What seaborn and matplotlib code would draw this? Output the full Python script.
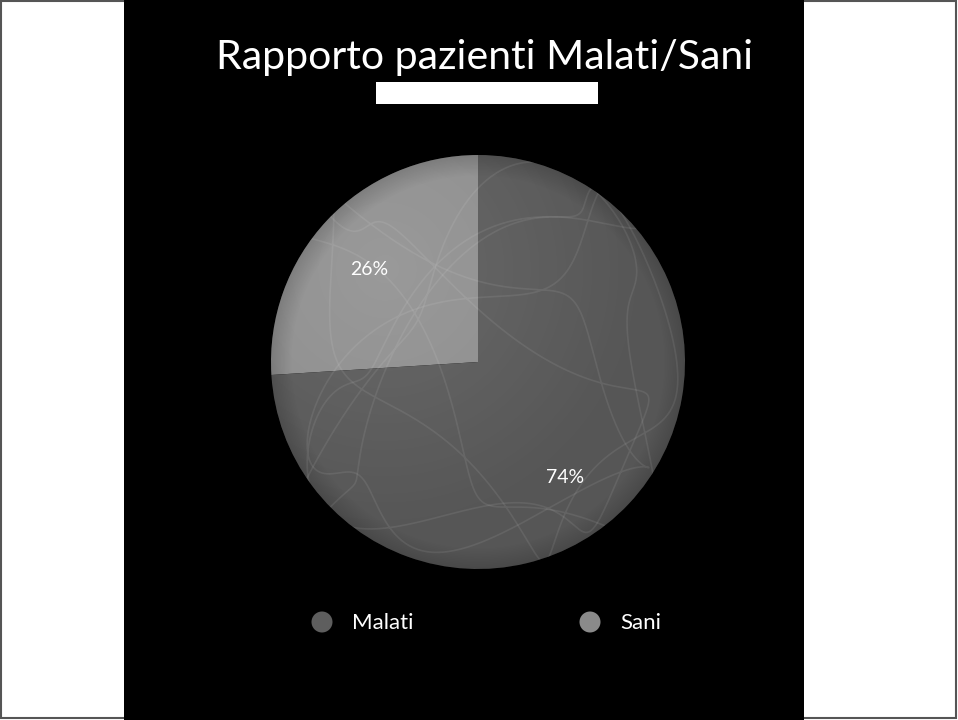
import numpy as np
import matplotlib
matplotlib.use("Agg")
import matplotlib.pyplot as plt
import seaborn as sns
from matplotlib.patches import Rectangle, Circle

# Data
labels = ["Sani", "Malati"]
shares = [26, 74]
legend_order = ["Malati", "Sani"]
title_text = "Rapporto pazienti Malati/Sani"

sns.set_theme(style="white")
plt.rcParams["font.family"] = ["Lato", "DejaVu Sans"]

palette = {"Malati": "#565656", "Sani": "#8c8c8c"}
legend_colors = {"Malati": "#5e5e5e", "Sani": "#8a8a8a"}

W, H = 958, 720
fig = plt.figure(figsize=(W / 100, H / 100), dpi=100, facecolor="white")

# Backdrop: full-figure overlay in pixel coordinates
bg = fig.add_axes([0, 0, 1, 1])
bg.set_xlim(0, W)
bg.set_ylim(H, 0)
bg.axis("off")
bg.add_patch(Rectangle((1, 1), W - 3, H - 3, facecolor="white",
                       edgecolor="#555555", lw=1.5))
bg.add_patch(Rectangle((124, 0), 680, H, facecolor="black", edgecolor="none"))

# Title and the white bar under it
bg.text(485, 58, title_text, color="white", fontsize=29.5, ha="center",
        va="center")
bg.add_patch(Rectangle((376, 82), 222, 22, facecolor="white", edgecolor="none"))

# Pie axes placed so that its centre sits in the black panel
cx, cy, r = 478, 362, 207
ax = fig.add_axes([(cx - r) / W, 1 - (cy + r) / H, 2 * r / W, 2 * r / H])
ax.set_facecolor("none")
wedges, texts, autotexts = ax.pie(
    shares,
    colors=[palette[l] for l in labels],
    startangle=90,
    counterclock=True,
    radius=1,
    autopct="%.0f%%",
    pctdistance=0.70,
    wedgeprops=dict(linewidth=0),
    textprops=dict(color="white", fontsize=14),
)
ax.set_xlim(-1, 1)
ax.set_ylim(-1, 1)
ax.axis("off")

# Percentage labels nudged onto the slice faces
label_pos = {"Sani": (-0.525, 0.445), "Malati": (0.42, -0.56)}
for name, txt in zip(labels, autotexts):
    txt.set_position(label_pos[name])
    txt.set_zorder(5)

# Soft spherical shading over the pie
n = 400
xs = np.linspace(-1, 1, n)
X, Y = np.meshgrid(xs, xs[::-1])
d_hi = np.hypot(X + 0.45, Y - 0.45)
rim = np.hypot(X, Y)
shade = np.zeros((n, n, 4))
shade[..., :3] = 1.0
shade[..., 3] = np.clip(0.12 * (1 - d_hi / 1.3), 0, None)
im = ax.imshow(shade, extent=(-1, 1, -1, 1), zorder=3, interpolation="bilinear")
im.set_clip_path(Circle((0, 0), 1, transform=ax.transData))
dark = np.zeros((n, n, 4))
dark[..., 3] = np.clip((rim - 0.9) / 0.1, 0, 1) * 0.15
im2 = ax.imshow(dark, extent=(-1, 1, -1, 1), zorder=3, interpolation="bilinear")
im2.set_clip_path(Circle((0, 0), 1, transform=ax.transData))

# A few faint looping strokes across the surface
t = np.linspace(0, 2 * np.pi, 1200)
for (a, b, ph, amp) in [(2, 3, 0.4, 0.85), (3, 2, 1.7, 0.8)]:
    sx = amp * np.sin(a * t + ph) + 0.12 * np.sin(9 * t)
    sy = amp * np.cos(b * t) + 0.12 * np.cos(11 * t + ph)
    line, = ax.plot(sx, sy, color="white", alpha=0.08, lw=1.2, zorder=4)
    line.set_clip_path(Circle((0, 0), 1, transform=ax.transData))

# Legend row
for name, x0 in zip(legend_order, [322, 590]):
    bg.add_patch(Circle((x0, 622), 10.5, facecolor=legend_colors[name],
                        edgecolor="none"))
    bg.text(x0 + 30, 623, name, color="white", fontsize=16, ha="left",
            va="center")

fig.savefig("out.png", dpi=100, facecolor="white")
